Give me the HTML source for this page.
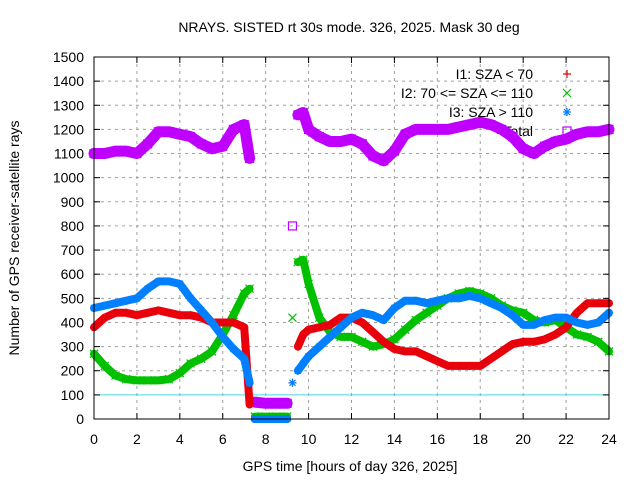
<!DOCTYPE html>
<html><head><meta charset="utf-8"><style>
body{margin:0;background:#fff}
svg text{font-family:"Liberation Sans",sans-serif;font-size:14px;fill:#000}
</style></head><body>
<svg id="chart" width="640" height="480" xmlns="http://www.w3.org/2000/svg">
<rect width="640" height="480" fill="#fff"/>
<text x="349" y="32" text-anchor="middle">NRAYS. SISTED rt 30s mode. 326, 2025. Mask 30 deg</text>
<text x="350" y="471" text-anchor="middle">GPS time [hours of day 326, 2025]</text>
<text transform="translate(19,238) rotate(-90)" text-anchor="middle">Number of GPS receiver-satellite rays</text>
<g id="grid"></g>
<g id="ticks"></g>
<g id="legend"></g>
<g id="series"></g>
<rect x="94" y="57" width="515" height="362" fill="none" stroke="#000" stroke-width="1"/>
</svg>
<script>
const hours=[0,0.5,1,1.5,2,2.5,3,3.5,4,4.5,5,5.5,6,6.5,7,7.25,7.5,8,8.5,9,9.25,9.5,9.75,10,10.5,11,11.5,12,12.5,13,13.5,14,14.5,15,15.5,16,16.5,17,17.5,18,18.5,19,19.5,20,20.5,21,21.5,22,22.5,23,23.5,24];
const totalVals=[1100,1100,1110,1110,1100,1140,1190,1190,1180,1170,1140,1120,1130,1200,1220,1080,70,65,65,65,800,1260,1270,1200,1170,1150,1150,1160,1140,1090,1070,1110,1180,1200,1200,1200,1200,1210,1220,1230,1220,1200,1170,1120,1100,1130,1150,1160,1180,1190,1190,1200];
const i1Vals=[380,420,440,440,430,440,450,440,430,430,420,400,400,400,380,60,0,0,0,0,150,300,350,370,380,390,420,420,400,360,320,290,280,280,260,240,220,220,220,220,250,280,310,320,320,330,350,380,440,480,480,480];
const i2Vals=[270,220,180,165,160,160,160,165,190,230,250,280,350,430,520,540,10,10,10,10,420,650,660,560,420,360,340,340,320,300,310,330,370,410,440,470,500,520,530,520,500,470,450,440,410,400,410,380,350,340,320,280];
const i3Vals=[460,470,480,490,500,540,570,570,560,500,450,400,340,290,250,150,0,0,0,0,150,200,230,260,300,340,380,420,440,430,410,460,490,490,480,490,500,500,510,500,480,460,430,390,390,410,420,420,400,390,400,440];
const gapAfter=[7.25,9,9.25];
const xTicks=[0,2,4,6,8,10,12,14,16,18,20,22,24];
const yTicks=[0,100,200,300,400,500,600,700,800,900,1000,1100,1200,1300,1400,1500];
const legendLabels=["I1: SZA < 70","I2: 70 <= SZA <= 110","I3: SZA > 110","Total"];

const NS="http://www.w3.org/2000/svg";
const X0=94,X1=609,Y0=419,Y1=57;
const xs=h=>X0+(X1-X0)*h/24;
const ys=v=>Y0-(Y0-Y1)*v/1500;
function mk(tag,attrs,parent){const e=document.createElementNS(NS,tag);for(const k in attrs)e.setAttribute(k,attrs[k]);parent.appendChild(e);return e;}
const grid=document.getElementById('grid'),ticks=document.getElementById('ticks');
xTicks.forEach(t=>{
  const x=xs(t);
  if(t>0&&t<24){const l=mk('line',{x1:x,x2:x,y1:Y1,y2:Y0,stroke:'#a0a0a0','stroke-dasharray':'3,4'},grid);
  
  }
  mk('line',{x1:x,x2:x,y1:Y0,y2:Y0-6,stroke:'#000'},ticks);
  mk('line',{x1:x,x2:x,y1:Y1,y2:Y1+6,stroke:'#000'},ticks);
  const tx=mk('text',{x:x,y:Y0+25,'text-anchor':'middle'},ticks);tx.textContent=t;
  
  
});
yTicks.forEach(t=>{
  const y=ys(t);
  if(t>0&&t<1500){const l=mk('line',{x1:X0,x2:X1,y1:y,y2:y,stroke:t===100?'#40d8e0':'#a0a0a0','stroke-dasharray':t===100?'none':'3,4'},grid);
  
  }
  mk('line',{x1:X0,x2:X0+6,y1:y,y2:y,stroke:'#000'},ticks);
  mk('line',{x1:X1,x2:X1-6,y1:y,y2:y,stroke:'#000'},ticks);
  const tx=mk('text',{x:X0-10,y:y+5,'text-anchor':'end'},ticks);tx.textContent=t;
  
  
});
const colors=['#e8000b','#00c000','#0080ff','#c000ff'];
const shapes=['plus','x','star','square'];
function marker(g,type,x,y,c){
  const s=4;
  if(type==='plus'){mk('path',{d:`M${x-s} ${y}H${x+s}M${x} ${y-s}V${y+s}`,stroke:c,'stroke-width':1.2,fill:'none'},g);}
  else if(type==='x'){mk('path',{d:`M${x-s} ${y-s}L${x+s} ${y+s}M${x-s} ${y+s}L${x+s} ${y-s}`,stroke:c,'stroke-width':1.2,fill:'none'},g);}
  else if(type==='star'){mk('path',{d:`M${x-s} ${y}H${x+s}M${x} ${y-s}V${y+s}M${x-3} ${y-3}L${x+3} ${y+3}M${x-3} ${y+3}L${x+3} ${y-3}`,stroke:c,'stroke-width':1.2,fill:'none'},g);}
  else {mk('rect',{x:x-s,y:y-s,width:2*s,height:2*s,stroke:c,'stroke-width':1.2,fill:'none'},g);}
}
const leg=document.getElementById('legend');
legendLabels.forEach((lab,i)=>{
  const y=74+i*19;
  const t=mk('text',{x:533,y:y+5,'text-anchor':'end'},leg);t.textContent=lab;
  
  
  marker(leg,shapes[i],567,y,colors[i]);
});
const seriesData=[i1Vals,i2Vals,i3Vals,totalVals];
const seriesNames=['series-i1','series-i2','series-i3','series-total'];
const order=[3,1,0,2];
const sg=document.getElementById('series');
order.forEach(i=>{
  const g=mk('g',{},sg);
  
  
  const vals=seriesData[i];
  let d='';
  for(let k=0;k<hours.length;k++){
    const x=xs(hours[k]),y=ys(vals[k]);
    const brk=k===0||gapAfter.includes(hours[k-1]);
    d+=(brk?'M':'L')+x.toFixed(1)+' '+y.toFixed(1);
  }
  mk('path',{d:d,stroke:colors[i],'stroke-width':i===3?11:8,fill:'none','stroke-linejoin':'round','stroke-linecap':'round'},g);
  for(let k=0;k<hours.length;k++)marker(g,shapes[i],xs(hours[k]),ys(vals[k]),colors[i]);
});
</script>
</body></html>
